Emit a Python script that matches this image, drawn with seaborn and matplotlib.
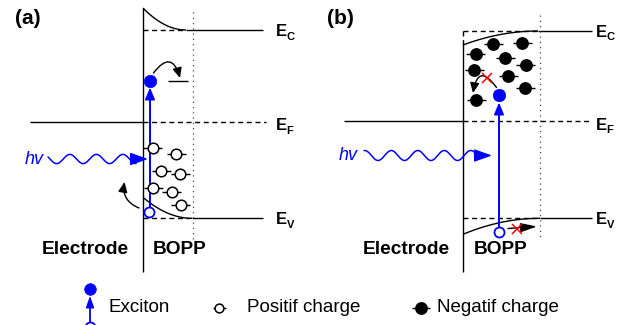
import numpy as np
import matplotlib
matplotlib.use("Agg")
import matplotlib.pyplot as plt
import seaborn as sns
from matplotlib.patches import FancyArrowPatch

sns.set_theme(style="white")
plt.rcParams['font.family'] = ['Liberation Sans', 'DejaVu Sans']
plt.rcParams['text.color'] = 'black'

BLUE = '#0000ff'

# ---- data (pixel positions of the schematic) ----
panel_labels = ['(a)', '(b)']
level_subs = ['C', 'F', 'V']
# panel (a) positive charges (open circles)
pos_x = [152.7, 176.0, 161.0, 180.0, 153.3, 171.7, 180.7]
pos_y = [148.3, 154.3, 171.0, 174.3, 187.7, 191.7, 205.0]
# panel (b) negative charges (filled circles)
neg_x = [493.3, 522.3, 475.7, 505.0, 525.7, 474.0, 508.3, 525.0, 476.0]
neg_y = [44.0, 42.7, 54.3, 57.7, 65.0, 70.0, 76.0, 88.3, 100.0]
legend_labels = ['Exciton', 'Positif charge', 'Negatif charge']
bottom_labels = ['Electrode', 'BOPP']

fig = plt.figure(figsize=(6.27, 3.25), dpi=100)
ax = fig.add_axes([0, 0, 1, 1])

LW = 1.0
DASH = (0, (3.6, 2.6))
DOT = (0, (1.0, 3.2))


def seg(x, y, ls='-', color='black', lw=LW, z=2):
    ax.plot(x, y, color=color, lw=lw, ls=ls, solid_capstyle='butt', zorder=z)


def arrow(p0, p1, color='black', lw=LW, rad=0.0, hl=0.6, hw=0.25, ms=12, z=4):
    a = FancyArrowPatch(p0, p1, arrowstyle=f'-|>,head_length={hl},head_width={hw}',
                        mutation_scale=ms, color=color, lw=lw, shrinkA=0, shrinkB=0,
                        connectionstyle=f'arc3,rad={rad}', zorder=z)
    ax.add_patch(a)


def wave(x0, x1, yc, period, phase_x, amp=4.6):
    xs = np.linspace(x0, x1, 300)
    ys = yc + amp * np.sin(2 * np.pi * (xs - phase_x) / period)
    ax.plot(xs, ys, color=BLUE, lw=1.1, zorder=3)


def charges(xs, ys, filled, r_s, dash=19, z=5):
    for x, y in zip(xs, ys):
        seg([x - dash / 2, x + dash / 2], [y, y], lw=1.0, z=z - 1)
    df = {'x': xs, 'y': ys}
    sns.scatterplot(data=df, x='x', y='y', ax=ax, s=r_s,
                    color='black' if filled else 'white',
                    edgecolor='black', linewidth=1.1, zorder=z, legend=False)


def level_label(x, y_line, sub, dy_e, dy_s):
    ax.text(x, y_line + dy_e, 'E', fontsize=12, fontweight='bold', ha='left', va='center')
    ax.text(x + 10.5, y_line + dy_s, sub, fontsize=8, fontweight='bold', ha='left', va='center')


# ================= panel (a) =================
ya_c, ya_f, ya_v = 30, 122, 218.3
seg([143, 143], [8, 272])
xs = np.linspace(143, 186, 60)
seg(xs, ya_c - 22 * (1 - (xs - 143) / 43) ** 2)
seg([186, 263], [ya_c, ya_c])
seg([143, 186], [ya_c, ya_c], ls=DASH)
seg([193.3, 193.3], [12, 240], ls=DOT, color='#444444', lw=0.9)
seg([30, 143], [ya_f, ya_f])
seg([143, 266], [ya_f, ya_f], ls=DASH)
xs = np.linspace(143, 192, 60)
seg(xs, ya_v - 21 * (1 - (xs - 143) / 49) ** 2)
seg([192, 263], [ya_v, ya_v])
seg([143, 190], [ya_v, ya_v], ls=DASH)

level_label(276, ya_c, level_subs[0], 1.5, 6.5)
level_label(276, ya_f, level_subs[1], 4, 9)
level_label(276, ya_v, level_subs[2], 1, 7)

# exciton in (a)
seg([150, 150], [207, 95], color=BLUE, lw=1.4, z=3)
arrow((150, 100), (150, 87.5), color=BLUE, lw=1.2, ms=12)
sns.scatterplot(x=[150], y=[81], ax=ax, s=80, color=BLUE, edgecolor=BLUE, linewidth=0.5, zorder=6)
sns.scatterplot(x=[149], y=[212], ax=ax, s=52, color='white', edgecolor=BLUE, linewidth=1.3, zorder=6)
# trap level and hop arrow
seg([168, 188], [81, 81])
arrow((153.5, 73), (180, 78), rad=-1.0, hl=0.55, hw=0.25, ms=11)
arrow((139, 208), (124.5, 182), rad=-0.4, hl=0.55, hw=0.25, ms=11)
charges(pos_x, pos_y, False, 58)

# light
wave(48, 136, 159, 26.5, 50)
seg([135, 138], [159, 159], color=BLUE, lw=1.1)
arrow((136, 159), (148, 159), color=BLUE, lw=1.1, hl=0.9, hw=0.32, ms=12)
ax.text(25, 159, 'hv', color=BLUE, fontsize=13, fontstyle='italic', ha='left', va='center')

ax.text(15, 19, panel_labels[0], fontsize=15, fontweight='bold', ha='left', va='center')
ax.text(42, 250, bottom_labels[0], fontsize=13.8, fontweight='bold', ha='left', va='center')
ax.text(153, 250, bottom_labels[1], fontsize=13.8, fontweight='bold', ha='left', va='center')

# ================= panel (b) =================
yb_c, yb_f, yb_v = 31, 121, 218.3
seg([462.7, 462.7], [43, 272])
xs = np.linspace(463, 538, 60)
seg(xs, yb_c + 14 * (1 - (xs - 463) / 75) ** 2)
seg([538, 592], [yb_c, yb_c])
seg([463, 540], [yb_c, yb_c], ls=DASH)
seg([463, 463], [yb_c, 45], ls=DASH)
seg([540, 540], [15, 237], ls=DOT, color='#444444', lw=0.9)
seg([344, 463], [yb_f, yb_f])
seg([463, 592], [yb_f, yb_f], ls=DASH)
seg([463, 540], [yb_v, yb_v], ls=DASH)
seg([540, 592], [yb_v, yb_v])
xs = np.linspace(463, 540, 60)
seg(xs, yb_v + 16 * (1 - (xs - 463) / 77) ** 2)

level_label(596, yb_c, level_subs[0], 1.5, 6.5)
level_label(596, yb_f, level_subs[1], 4, 9)
level_label(596, yb_v, level_subs[2], 1, 7)

charges(neg_x, neg_y, True, 66)
seg([499, 499], [227, 110], color=BLUE, lw=1.4, z=3)
arrow((499, 115), (499, 102.5), color=BLUE, lw=1.2, ms=12)
sns.scatterplot(x=[499.3], y=[95], ax=ax, s=80, color=BLUE, edgecolor=BLUE, linewidth=0.5, zorder=6)
sns.scatterplot(x=[499], y=[232], ax=ax, s=52, color='white', edgecolor=BLUE, linewidth=1.3, zorder=6)
arrow((496.5, 87.5), (473, 93), rad=1.2, hl=0.55, hw=0.25, ms=11)
arrow((508, 228.5), (537, 226.5), hl=0.9, hw=0.25, ms=11)
ax.plot([487], [78], marker='x', color='red', ms=7, mew=1.1, zorder=7)
ax.plot([517], [229], marker='x', color='red', ms=7, mew=1.1, zorder=7)

wave(364, 475, 155.5, 26.5, 371.4, amp=5)
seg([474, 482], [155.5, 155.5], color=BLUE, lw=1.1)
arrow((480, 155.5), (492, 155.5), color=BLUE, lw=1.1, hl=0.9, hw=0.32, ms=12)
ax.text(339, 156, 'hv', color=BLUE, fontsize=13, fontstyle='italic', ha='left', va='center')

ax.text(327, 19, panel_labels[1], fontsize=15, fontweight='bold', ha='left', va='center')
ax.text(363, 250, bottom_labels[0], fontsize=13.8, fontweight='bold', ha='left', va='center')
ax.text(474, 250, bottom_labels[1], fontsize=13.8, fontweight='bold', ha='left', va='center')

# ================= legend =================
seg([90, 90], [322, 300], color=BLUE, lw=1.3, z=3)
arrow((90, 303), (90, 296), color=BLUE, lw=1.0, hl=0.7, hw=0.25, ms=10)
sns.scatterplot(x=[90], y=[289], ax=ax, s=70, color=BLUE, edgecolor=BLUE, linewidth=0.5, zorder=6)
sns.scatterplot(x=[90], y=[327], ax=ax, s=52, color='white', edgecolor=BLUE, linewidth=1.3, zorder=6)
ax.text(109, 308, legend_labels[0], fontsize=13.5, ha='left', va='center')

charges([219], [308], False, 40, dash=13)
ax.text(247, 308, legend_labels[1], fontsize=13.5, ha='left', va='center')
charges([421], [308], True, 66, dash=18)
ax.text(437, 308, legend_labels[2], fontsize=13.5, ha='left', va='center')

ax.set_xlim(0, 627)
ax.set_ylim(325, 0)
ax.axis('off')
fig.savefig('out.png', dpi=100, facecolor='white')
